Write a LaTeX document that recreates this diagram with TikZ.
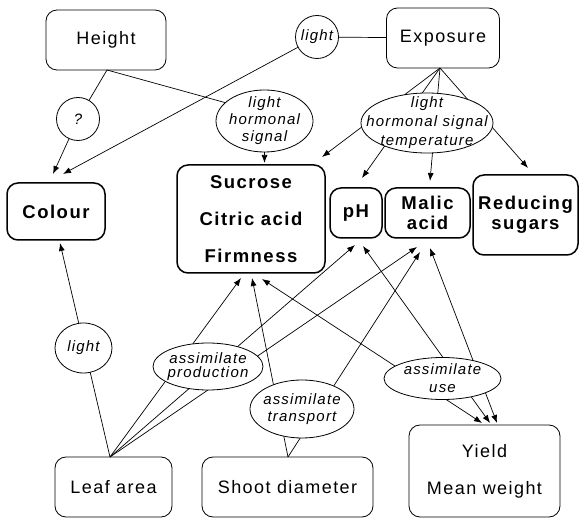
\documentclass[tikz,border=0pt]{standalone}
\usepackage{fontspec}
\setmainfont{Liberation Sans}[LetterSpace=8]
\usetikzlibrary{shapes.geometric,arrows.meta}
\pgfdeclarelayer{bg}
\pgfsetlayers{bg,main}
\tikzset{
  box/.style={draw, rounded corners=11pt, line width=0.8pt, inner sep=0pt, align=center, font=\fontsize{18}{21}\selectfont},
  bbox/.style={box, line width=1.5pt, font=\fontsize{18.5}{21}\selectfont\bfseries},
  oval/.style={draw, ellipse, fill=white, line width=0.8pt, inner xsep=-30pt, inner ysep=-15pt, align=center},
  ring/.style={draw, circle, fill=white, line width=0.8pt, inner sep=0pt, font=\fontsize{15}{18}\selectfont\itshape},
  conn/.style={line width=0.7pt},
  arr/.style={conn, -{Latex[length=8pt,width=6pt]}},
  darr/.style={conn, {Latex[length=8pt,width=6pt]}-{Latex[length=8pt,width=6pt]}},
}
\begin{document}
\begin{tikzpicture}[x=1pt,y=-1pt]
\useasboundingbox (0,0) rectangle (579,518);
% boxes
\node[box, minimum width=120pt, minimum height=60pt] (height) at (106,40) {Height};
\node[box, minimum width=113pt, minimum height=60pt] (expo) at (443,38) {Exposure};
\node[bbox, minimum width=98pt, minimum height=57pt] (colour) at (56,211.5) {Colour};
\node[bbox, minimum width=148pt, minimum height=108pt, font=\fontsize{18.5}{37}\selectfont\bfseries] (sucrose) at (251,219) {Sucrose\\Citric acid\\Firmness};
\node[bbox, minimum width=52pt, minimum height=50pt] (ph) at (356,213) {pH};
\node[bbox, minimum width=85pt, minimum height=50pt, font=\fontsize{18.5}{20}\selectfont\bfseries] (malic) at (427.5,213) {Malic\\acid};
\node[bbox, minimum width=105pt, minimum height=80pt, font=\fontsize{18.5}{20}\selectfont\bfseries] (reducing) at (525.5,215) {Reducing\\sugars};
\node[box, minimum width=117pt, minimum height=60pt] (leaf) at (113.5,487) {Leaf area};
\node[box, minimum width=171pt, minimum height=60pt] (shoot) at (287.5,487) {Shoot diameter};
\node[box, minimum width=151pt, minimum height=92pt, font=\fontsize{18}{37}\selectfont] (yield) at (484.5,471) {Yield\\Mean weight};
% ellipses and circles
\node[ring, minimum size=43pt] (lightA) at (317,37) {light};
\node[ring, minimum size=43pt] (q) at (78,119) {?};
\node[oval, minimum width=97pt, minimum height=62pt, font=\fontsize{15}{17}\selectfont\itshape] (lhs) at (264.5,121) {light\\hormonal\\signal};
\node[oval, minimum width=132pt, minimum height=60pt, font=\fontsize{15}{19}\selectfont\itshape] (expell) at (427,123) {light\\hormonal signal\\temperature};
\node[oval, minimum width=57pt, minimum height=50pt, font=\fontsize{15}{18}\selectfont\itshape] (lightB) at (83.5,348) {light};
\node[oval, minimum width=110pt, minimum height=47pt, font=\fontsize{15}{14}\selectfont\itshape] (prod) at (208,366.5) {assimilate\\production};
\node[oval, minimum width=104pt, minimum height=58pt, font=\fontsize{15}{17}\selectfont\itshape] (trans) at (302,409) {assimilate\\transport};
\node[oval, minimum width=117pt, minimum height=42pt, font=\fontsize{15}{18}\selectfont\itshape] (use) at (442.5,378.5) {assimilate\\use};
% attachment points
\coordinate (hb) at (107,70);
\coordinate (eb) at (440,68);
\coordinate (la) at (110,457);
\coordinate (sh) at (288,457);
\coordinate (tC1) at (53,174);
\coordinate (tC2) at (63,174);
\coordinate (tC3) at (60,243);
\coordinate (tS0) at (264.5,163);
\coordinate (tS1) at (322,157);
\coordinate (tP1) at (362,178);
\coordinate (tM1) at (430,181);
\coordinate (tR1) at (528,168);
\coordinate (tS2) at (241,278);
\coordinate (tS3) at (252,278);
\coordinate (tS4) at (262,279);
\coordinate (tP2) at (355,245);
\coordinate (tP3) at (363,246);
\coordinate (tM2) at (417,247);
\coordinate (tM2b) at (420,252);
\coordinate (tM3) at (430,248);
\coordinate (tY1) at (482,423);
\coordinate (tY2) at (490,423);
\coordinate (tY3) at (497,423);
\begin{pgfonlayer}{bg}
\draw[arr] (hb) -- (q.center) -- (tC1);
\draw[conn] (hb) -- (lhs.155);
\draw[arr] (lhs.center) -- (tS0);
\draw[conn] (expo) -- (lightA);
\draw[arr] (lightA) -- (tC2);
\foreach \t in {tS1,tP1,tM1,tR1} \draw[arr] (eb) -- (\t);
\draw[arr] (la) -- (tC3);
\foreach \t in {tS2,tP2,tM2} \draw[arr] (la) -- (\t);
\draw[arr] (sh) -- (tS3);
\draw[arr] (sh) -- (tM2b);
\draw[darr] (tY1) -- (tS4);
\draw[darr] (tY2) -- (tP3);
\draw[darr] (tY3) -- (tM3);
\end{pgfonlayer}
\end{tikzpicture}
\end{document}
